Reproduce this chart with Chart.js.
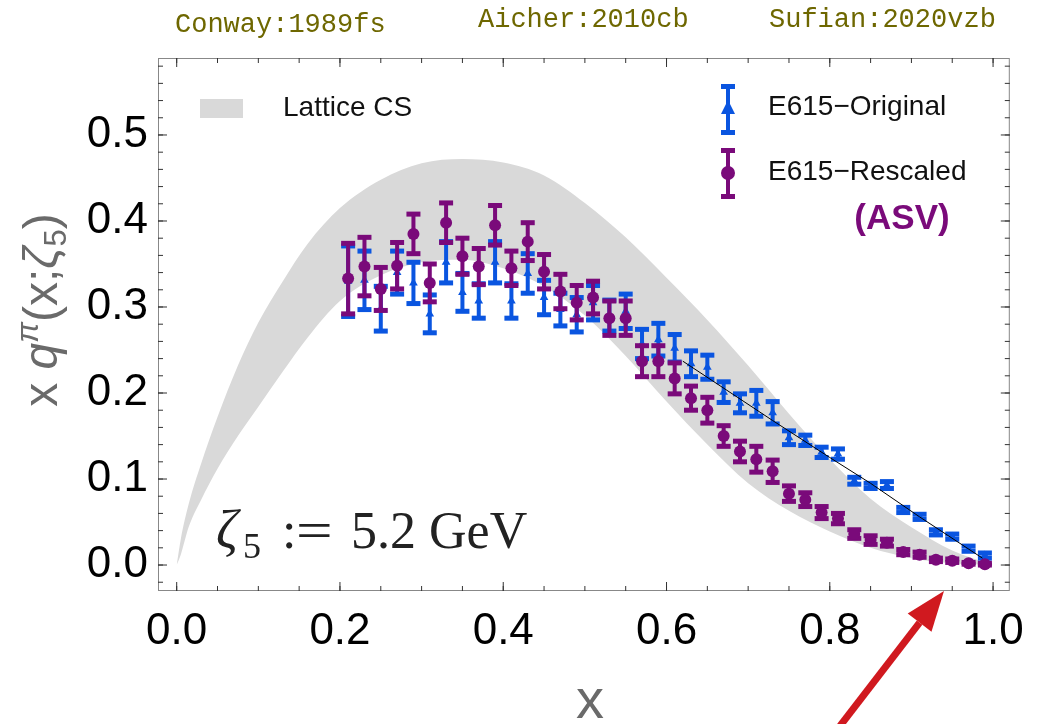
<!DOCTYPE html>
<html lang="en">
<head>
<meta charset="UTF-8">
<title>E615 pion valence distribution</title>
<style>
    body { margin: 0; background: #fff; }
    #wrap { width: 1038px; height: 724px; }
</style>
</head>
<body>
<div id="wrap"><canvas id="pdfChart" width="1038" height="724"></canvas></div>
<script src="https://cdn.jsdelivr.net/npm/chart.js"></script>
<script>
    // E615 data points (x values shared by both series)
    const xPoints = [0.21, 0.23, 0.25, 0.27, 0.29, 0.31, 0.33, 0.35, 0.37, 0.39,
                     0.41, 0.43, 0.45, 0.47, 0.49, 0.51, 0.53, 0.55, 0.57, 0.59,
                     0.61, 0.63, 0.65, 0.67, 0.69, 0.71, 0.73, 0.75, 0.77, 0.79,
                     0.81, 0.83, 0.85, 0.87, 0.89, 0.91, 0.93, 0.95, 0.97, 0.99];

    const originalY = [0.330, 0.331, 0.298, 0.340, 0.328, 0.292, 0.352, 0.317, 0.307, 0.352,
                       0.307, 0.339, 0.311, 0.297, 0.291, 0.305, 0.290, 0.295, 0.257, 0.262,
                       0.252, 0.234, 0.230, 0.201, 0.188, 0.188, 0.177, 0.148, 0.145, 0.131,
                       0.129, 0.098, 0.092, 0.093, 0.064, 0.056, 0.038, 0.033, 0.019, 0.011];
    const originalErr = [0.041, 0.034, 0.026, 0.025, 0.024, 0.022, 0.024, 0.022, 0.020, 0.024,
                         0.020, 0.023, 0.020, 0.019, 0.020, 0.020, 0.018, 0.020, 0.017, 0.019,
                         0.016, 0.015, 0.014, 0.012, 0.011, 0.015, 0.013, 0.008, 0.006, 0.006,
                         0.006, 0.004, 0.003, 0.004, 0.003, 0.003, 0.003, 0.003, 0.003, 0.003];

    const rescaledY = [0.333, 0.347, 0.321, 0.348, 0.385, 0.328, 0.398, 0.359, 0.347, 0.395,
                       0.345, 0.376, 0.341, 0.318, 0.305, 0.311, 0.287, 0.287, 0.237, 0.237,
                       0.217, 0.194, 0.180, 0.150, 0.132, 0.123, 0.109, 0.083, 0.076, 0.061,
                       0.054, 0.036, 0.029, 0.026, 0.015, 0.012, 0.006, 0.005, 0.002, 0.001];
    const rescaledErr = [0.041, 0.034, 0.025, 0.027, 0.023, 0.022, 0.023, 0.021, 0.021, 0.023,
                         0.020, 0.022, 0.020, 0.020, 0.020, 0.019, 0.020, 0.020, 0.018, 0.018,
                         0.018, 0.014, 0.015, 0.012, 0.012, 0.015, 0.013, 0.009, 0.008, 0.007,
                         0.006, 0.005, 0.005, 0.004, 0.003, 0.003, 0.002, 0.002, 0.001, 0.001];

    // Lattice CS band
    const bandX = [0, 0.005, 0.015, 0.03, 0.05, 0.075, 0.1, 0.13, 0.16, 0.2, 0.25, 0.3, 0.35,
                   0.4, 0.45, 0.5, 0.55, 0.6, 0.65, 0.7, 0.75, 0.8, 0.85, 0.9, 0.95, 1.0];
    const bandUpper = [0, 0.030, 0.072, 0.118, 0.172, 0.232, 0.282, 0.330, 0.373, 0.415, 0.448, 0.467, 0.472,
                       0.468, 0.453, 0.421, 0.381, 0.334, 0.285, 0.232, 0.176, 0.123, 0.077, 0.044, 0.017, 0];
    const bandLower = [0, 0.012, 0.045, 0.076, 0.112, 0.150, 0.184, 0.225, 0.264, 0.307, 0.337, 0.352, 0.355,
                       0.345, 0.324, 0.290, 0.243, 0.190, 0.140, 0.095, 0.063, 0.039, 0.020, 0.008, 0.002, 0];

    // thin black line through the high-x original points
    const lineX = [0.62, 0.73, 0.80, 0.85, 0.91, 0.987];
    const lineY = [0.237, 0.168, 0.125, 0.095, 0.056, 0.008];

    const xTicks = [0, 0.2, 0.4, 0.6, 0.8, 1.0];
    const yTicks = [0, 0.1, 0.2, 0.3, 0.4, 0.5];
    const refLabels = ['Conway:1989fs', 'Aicher:2010cb', 'Sufian:2020vzb'];

    const BLUE = '#0a55e0';
    const PURPLE = '#7a0a7a';
    const GRAY = '#d9d9d9';

    const toPts = (xs, ys) => xs.map((x, i) => ({x: x, y: ys[i]}));

    // error bars are drawn just before their dataset so markers sit on top
    const errorBars = {
        id: 'errorBars',
        beforeDatasetDraw(chart, args) {
            const ds = chart.data.datasets[args.index];
            if (!ds.errors) return;
            const ctx = chart.ctx;
            const xs = chart.scales.x, ys = chart.scales.y;
            ctx.save();
            ctx.fillStyle = ds.borderColor;
            ds.data.forEach((p, i) => {
                const px = xs.getPixelForValue(p.x);
                const top = ys.getPixelForValue(p.y + ds.errors[i]);
                const bot = ys.getPixelForValue(p.y - ds.errors[i]);
                ctx.fillRect(px - 2, top, 4, bot - top);
                ctx.fillRect(px - 7, top - 2.5, 14, 5);
                ctx.fillRect(px - 7, bot - 2.5, 14, 5);
            });
            ctx.restore();
        }
    };

    function drawTicks(ctx, area, scale, values, len, vertical) {
        values.forEach(v => {
            const p = scale.getPixelForValue(v);
            ctx.beginPath();
            if (vertical) {
                ctx.moveTo(area.left, p); ctx.lineTo(area.left + len, p);
                ctx.moveTo(area.right, p); ctx.lineTo(area.right - len, p);
            } else {
                ctx.moveTo(p, area.bottom); ctx.lineTo(p, area.bottom - len);
                ctx.moveTo(p, area.top); ctx.lineTo(p, area.top + len);
            }
            ctx.stroke();
        });
    }

    const decorations = {
        id: 'decorations',
        afterDraw(chart) {
            const ctx = chart.ctx;
            const area = chart.chartArea;
            const xs = chart.scales.x, ys = chart.scales.y;
            ctx.save();

            // frame with inward ticks (Mathematica style)
            ctx.strokeStyle = '#888';
            ctx.lineWidth = 1;
            ctx.strokeRect(area.left + 0.5, area.top + 0.5, area.right - area.left - 1, area.bottom - area.top - 1);
            ctx.strokeStyle = '#333';
            const xMinor = [], yMinor = [];
            for (let i = 0; i <= 20; i++) xMinor.push(i * 0.05);
            for (let i = -1; i <= 29; i++) yMinor.push(i * 0.02);
            drawTicks(ctx, area, xs, xMinor, 5, false);
            drawTicks(ctx, area, xs, xTicks, 9, false);
            drawTicks(ctx, area, ys, yMinor, 5, true);
            drawTicks(ctx, area, ys, yTicks, 9, true);

            // axis titles
            ctx.fillStyle = '#6a6a6a';
            ctx.textBaseline = 'alphabetic';
            ctx.textAlign = 'center';
            ctx.font = '56px "Liberation Sans"';
            ctx.fillText('x', 590, 718);

            const parts = [
                {t: 'x ', f: '48px "Liberation Sans"', dy: 0},
                {t: 'q', f: 'italic 48px "Liberation Sans"', dy: 0},
                {t: 'π', f: 'italic 31px "Liberation Sans"', dy: -19},
                {t: '(x;', f: '48px "Liberation Sans"', dy: 0},
                {t: 'ζ', f: 'italic 48px "Liberation Sans"', dy: 0},
                {t: '5', f: '31px "Liberation Sans"', dy: 9},
                {t: ')', f: '48px "Liberation Sans"', dy: 0}
            ];
            let total = 0;
            parts.forEach(p => { ctx.font = p.f; p.w = ctx.measureText(p.t).width; total += p.w; });
            ctx.save();
            ctx.translate(57, 310);
            ctx.rotate(-Math.PI / 2);
            ctx.textAlign = 'left';
            let cx = -total / 2;
            parts.forEach(p => { ctx.font = p.f; ctx.fillText(p.t, cx, p.dy); cx += p.w; });
            ctx.restore();

            // reference keys above the plot
            ctx.fillStyle = '#6e6700';
            ctx.textAlign = 'left';
            ctx.font = '27px "Liberation Mono"';
            ctx.fillText(refLabels[0], 175, 32);
            ctx.fillText(refLabels[1], 478, 27);
            ctx.fillText(refLabels[2], 769, 27);

            // legend
            ctx.fillStyle = GRAY;
            ctx.fillRect(200, 99, 43, 19);
            ctx.fillStyle = '#111';
            ctx.textBaseline = 'middle';
            ctx.font = '28px "Liberation Sans"';
            ctx.fillText('Lattice CS', 283, 108);
            ctx.fillText('E615\u2212Original', 768, 107);
            ctx.fillText('E615\u2212Rescaled', 768, 172);

            ctx.fillStyle = BLUE;
            ctx.fillRect(726, 86, 4, 47);
            ctx.fillRect(721, 84, 14, 5);
            ctx.fillRect(721, 130, 14, 5);
            ctx.beginPath();
            ctx.moveTo(728, 100); ctx.lineTo(735, 114); ctx.lineTo(721, 114); ctx.closePath();
            ctx.fill();

            ctx.fillStyle = PURPLE;
            ctx.fillRect(726, 150, 4, 47);
            ctx.fillRect(721, 148, 14, 5);
            ctx.fillRect(721, 194, 14, 5);
            ctx.beginPath();
            ctx.arc(728, 173, 7, 0, Math.PI * 2);
            ctx.fill();

            ctx.font = 'bold 35px "Liberation Sans"';
            ctx.textAlign = 'center';
            ctx.fillText('(ASV)', 902, 219);

            // scale label
            ctx.fillStyle = '#222';
            ctx.textAlign = 'left';
            ctx.textBaseline = 'alphabetic';
            ctx.font = 'italic 54px "Liberation Serif"';
            ctx.fillText('ζ', 216, 548);
            ctx.font = '36px "Liberation Serif"';
            ctx.fillText('5', 243, 558);
            ctx.font = '52px "Liberation Serif"';
            ctx.fillText(':', 282, 548);
            ctx.save();
            ctx.translate(296, 548);
            ctx.scale(1.25, 1);
            ctx.fillText('=', 0, 0);
            ctx.restore();
            ctx.fillText('5.2 GeV', 351, 548);

            // red arrow pointing at the x axis
            const tip = {x: 944, y: 591}, tail = {x: 840, y: 726};
            const dx = tip.x - tail.x, dy = tip.y - tail.y;
            const len = Math.hypot(dx, dy);
            const ux = dx / len, uy = dy / len;
            const bx = tip.x - 40 * ux, by = tip.y - 40 * uy;
            ctx.strokeStyle = '#d0191f';
            ctx.fillStyle = '#d0191f';
            ctx.lineWidth = 7;
            ctx.beginPath();
            ctx.moveTo(tail.x, tail.y); ctx.lineTo(bx, by);
            ctx.stroke();
            ctx.beginPath();
            ctx.moveTo(tip.x, tip.y);
            ctx.lineTo(bx - 15 * uy, by + 15 * ux);
            ctx.lineTo(bx + 15 * uy, by - 15 * ux);
            ctx.closePath();
            ctx.fill();

            ctx.restore();
        }
    };

    const ctx = document.getElementById('pdfChart').getContext('2d');
    new Chart(ctx, {
        type: 'scatter',
        data: {
            datasets: [{
                type: 'line',
                label: 'Lattice CS',
                data: toPts(bandX, bandUpper),
                borderWidth: 0,
                pointRadius: 0,
                backgroundColor: GRAY,
                fill: '+1',
                cubicInterpolationMode: 'monotone',
                order: 5
            }, {
                type: 'line',
                label: 'Lattice CS lower',
                data: toPts(bandX, bandLower),
                borderWidth: 0,
                pointRadius: 0,
                fill: false,
                cubicInterpolationMode: 'monotone',
                order: 5
            }, {
                label: 'E615-Original',
                data: toPts(xPoints, originalY),
                errors: originalErr,
                pointStyle: 'triangle',
                pointRadius: 5,
                borderColor: BLUE,
                backgroundColor: BLUE,
                borderWidth: 0,
                order: 3
            }, {
                label: 'E615-Rescaled',
                data: toPts(xPoints, rescaledY),
                errors: rescaledErr,
                pointStyle: 'circle',
                pointRadius: 6,
                borderColor: PURPLE,
                backgroundColor: PURPLE,
                borderWidth: 0,
                order: 2
            }, {
                type: 'line',
                label: 'fit',
                data: toPts(lineX, lineY),
                borderColor: '#000',
                borderWidth: 1,
                pointRadius: 0,
                fill: false,
                order: 1
            }]
        },
        options: {
            responsive: false,
            animation: false,
            events: [],
            layout: { padding: { top: 58, right: 18, left: 0, bottom: 0 } },
            scales: {
                x: {
                    type: 'linear',
                    min: -0.0229,
                    max: 1.0205,
                    grid: { display: false, drawTicks: false },
                    border: { display: false },
                    afterBuildTicks: s => { s.ticks = xTicks.map(v => ({value: v})); },
                    afterFit: s => { s.height = 133; },
                    ticks: {
                        padding: 14,
                        color: '#000',
                        font: { family: 'Liberation Sans', size: 44 },
                        callback: v => v.toFixed(1),
                        maxRotation: 0
                    }
                },
                y: {
                    type: 'linear',
                    min: -0.0302,
                    max: 0.5895,
                    grid: { display: false, drawTicks: false },
                    border: { display: false },
                    afterBuildTicks: s => { s.ticks = yTicks.map(v => ({value: v})); },
                    afterFit: s => { s.width = 158; },
                    ticks: {
                        padding: 10,
                        color: '#000',
                        font: { family: 'Liberation Sans', size: 44 },
                        callback: v => v.toFixed(1)
                    }
                }
            },
            plugins: {
                legend: { display: false },
                tooltip: { enabled: false }
            }
        },
        plugins: [errorBars, decorations]
    });
</script>
</body>
</html>
